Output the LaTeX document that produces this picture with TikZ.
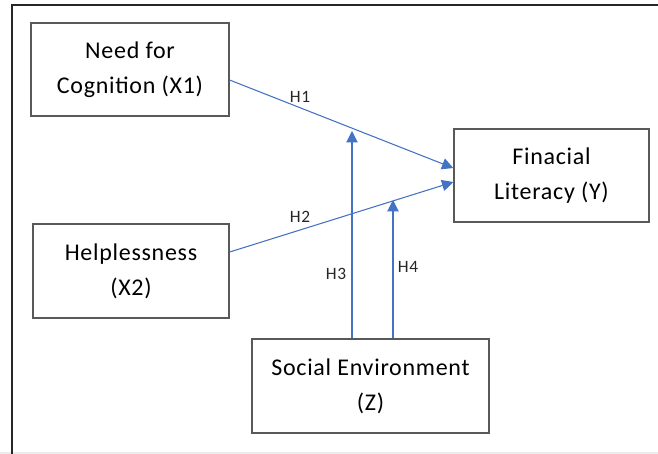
\documentclass[tikz,border=0pt]{standalone}
\usepackage{fontspec}
\setmainfont{Carlito}[LetterSpace = 3]
\usetikzlibrary{arrows.meta, calc}

\definecolor{hypblue}{RGB}{68, 114, 196}

\tikzset{
    varbox/.style = {draw = black!65, line width = 1pt, align = center, inner sep = 0pt,
                     font = \fontsize{18}{26}\selectfont},
    hyp/.style = {hypblue, line width = 0.8pt, -{Triangle[length = 8.5pt, width = 8.5pt]}},
    hyplabel/.style = {font = \fontsize{13}{15}\selectfont, text = black!85}
}

\begin{document}
\begin{tikzpicture}[x = 0.75pt, y = -0.75pt]
            \useasboundingbox (0, 0) rectangle (658, 454);
            \draw[gray!15, line width = 1pt](0, 453) -- (658, 453);
            \draw[black!85, line width = 1.6pt](12, 454) -- (12, 5) -- (658, 5);
            
            \node[varbox, minimum width = 148.5pt, minimum height = 69.75pt] (nfc) at (130, 69.5) {Need for\\Cognition (X1)};
            \node[varbox, minimum width = 147pt, minimum height = 70.5pt] (help) at (131, 271) {Helplessness\\(X2)};
            \node[varbox, minimum width = 146.25pt, minimum height = 69.75pt] (fl) at (551.5, 175.5) {Finacial\\Literacy (Y)};
            \node[varbox, minimum width = 177.75pt, minimum height = 70.5pt] (se) at (370.5, 386) {Social Environment\\(Z)};
            
            \coordinate (h3_top) at (352, 131);
            \coordinate (h4_top) at (393, 200);
            
            \draw[hyp]([yshift = -7.9pt]nfc.east) -- ([yshift = 5.6pt]fl.west);
            \draw[hyp]([yshift = 14.25pt]help.east) -- ([yshift = -4.9pt]fl.west);
            \draw[hyp](se.north -| h3_top) -- (h3_top);
            \draw[hyp](se.north -| h4_top) -- (h4_top);
            
            \node[hyplabel] (lab_h1) at (300, 97) {H1};
            \node[hyplabel] (lab_h2) at (300, 217) {H2};
            \node[hyplabel] (lab_h3) at (336, 274) {H3};
            \node[hyplabel] (lab_h4) at (408, 267) {H4};
        \end{tikzpicture}
\end{document}
